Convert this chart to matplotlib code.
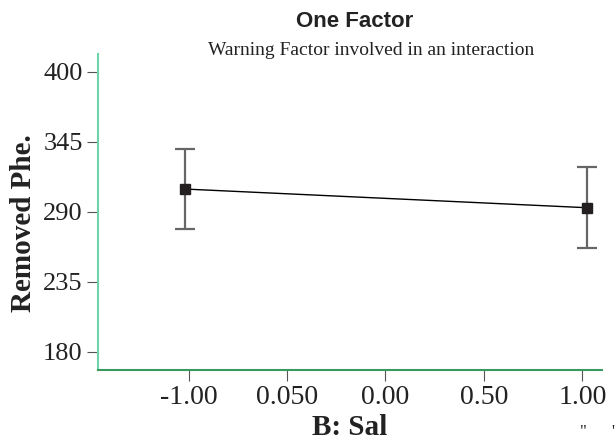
import numpy as np
import matplotlib.pyplot as plt

# B: Sal levels and predicted Removed Phe. with 95% CI half-widths
levels = [-1.02, 1.025]
means = [307.8, 293.1]
ci = [31.6, 31.7]
xtick_pos = [-1.0, -0.5, 0.0, 0.5, 1.0]
xtick_labels = ['-1.00', '0.050', '0.00', '0.50', '1.00']
ytick_pos = [180, 235, 290, 345, 400]

serif = 'Liberation Serif'
sans = 'Liberation Sans'

fig = plt.figure(figsize=(6.16, 4.48), dpi=100)
ax = fig.add_axes([98 / 616, 78 / 448, 504 / 616, 316 / 448])

ax.errorbar(levels, means, yerr=ci, fmt='none', ecolor='#666666',
            elinewidth=1.6, capsize=7.5, capthick=1.6, zorder=2)
ax.plot(levels, means, color='black', lw=1.0, zorder=3)
ax.plot(levels, means, 's', color='#231f20', ms=7.5, zorder=4)

ax.set_xlim(-1.46, 1.10)
ax.set_ylim(165.6, 413.9)
ax.set_xticks(xtick_pos)
ax.set_xticklabels(xtick_labels, fontfamily=serif, fontsize=20, color='#222222')
ax.set_yticks(ytick_pos)
ax.set_yticklabels([str(v) for v in ytick_pos], fontfamily=serif, fontsize=19,
                   color='#222222')
ax.tick_params(axis='both', direction='out', length=8, width=0.8,
               color='#555555', pad=3)

for s in ['top', 'right']:
    ax.spines[s].set_visible(False)
ax.spines['left'].set_color('#6dd6a8')
ax.spines['left'].set_linewidth(1.5)
ax.spines['bottom'].set_color('#3a9a5e')
ax.spines['bottom'].set_linewidth(1.5)

ax.set_xlabel('B: Sal', fontfamily=serif, fontsize=21, fontweight='bold',
              color='#222222', labelpad=3)
ax.set_ylabel('Removed Phe.', fontfamily=serif, fontsize=21, fontweight='bold',
              color='#222222')
ax.yaxis.set_label_coords(-0.121, 0.464)

fig.text(355 / 616, 1 - 27 / 448, 'One Factor', ha='center', va='baseline',
         fontfamily=sans, fontsize=16, fontweight='bold', color='#222222')
fig.text(371 / 616, 1 - 55 / 448, 'Warning Factor involved in an interaction',
         ha='center', va='baseline', fontfamily=serif, fontsize=14,
         color='#222222')
fig.text(583 / 616, 1 - 436 / 448, '"', ha='center', va='baseline',
         fontfamily=serif, fontsize=12, color='#222222')
fig.text(613 / 616, 1 - 436 / 448, "'", ha='center', va='baseline',
         fontfamily=serif, fontsize=12, color='#222222')

fig.savefig('out.png', dpi=100)
